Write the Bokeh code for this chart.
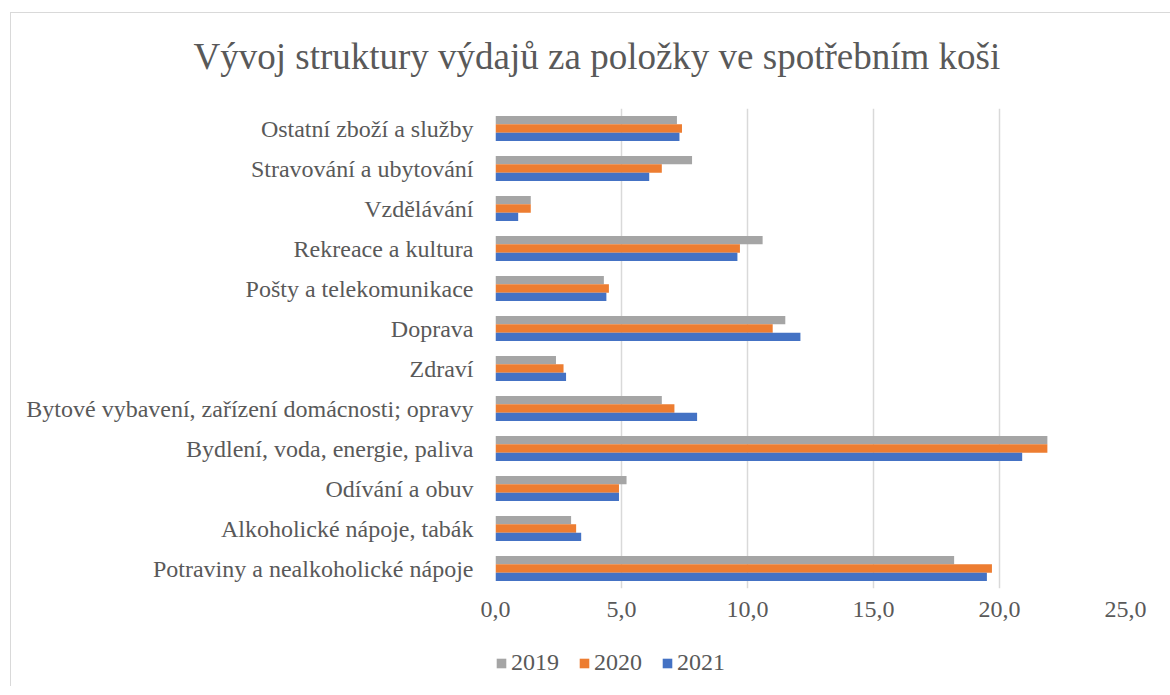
from bokeh.plotting import figure
from bokeh.layouts import column
from bokeh.models import ColumnDataSource, Legend, LegendItem, Range1d, FactorRange, Title
from bokeh.transform import dodge
from bokeh.embed import file_html
from bokeh.resources import INLINE

# bottom-to-top order
categories = [
    "Potraviny a nealkoholické nápoje",
    "Alkoholické nápoje, tabák",
    "Odívání a obuv",
    "Bydlení, voda, energie, paliva",
    "Bytové vybavení, zařízení domácnosti; opravy",
    "Zdraví",
    "Doprava",
    "Pošty a telekomunikace",
    "Rekreace a kultura",
    "Vzdělávání",
    "Stravování a ubytování",
    "Ostatní zboží a služby",
]
v2019 = [18.2, 3.0, 5.2, 21.9, 6.6, 2.4, 11.5, 4.3, 10.6, 1.4, 7.8, 7.2]
v2020 = [19.7, 3.2, 4.9, 21.9, 7.1, 2.7, 11.0, 4.5, 9.7, 1.4, 6.6, 7.4]
v2021 = [19.5, 3.4, 4.9, 20.9, 8.0, 2.8, 12.1, 4.4, 9.6, 0.9, 6.1, 7.3]
years = ["2019", "2020", "2021"]
x_ticks = [0, 5, 10, 15, 20, 25]

colors = ["#a5a5a5", "#ed7d31", "#4472c4"]
FONT = "Liberation Serif"
TXT = "#595959"

source = ColumnDataSource(dict(cat=categories, y2019=v2019, y2020=v2020, y2021=v2021))


def blank(fig):
    fig.axis.visible = False
    fig.grid.visible = False
    fig.outline_line_color = None
    fig.background_fill_color = "white"
    fig.border_fill_color = "white"


# title strip
tf = figure(width=1159, height=95, output_backend="svg", toolbar_location=None,
            min_border_left=484, min_border_right=45, min_border_top=63, min_border_bottom=0,
            x_range=Range1d(0, 25), y_range=Range1d(0, 1))
blank(tf)
tf.title = Title(text="Vývoj struktury výdajů za položky ve spotřebním koši",
                 align="left", offset=-302, text_font=FONT, text_font_size="37px",
                 text_color=TXT, text_font_style="normal", standoff=0)

# main chart
p = figure(
    width=1159, height=532, title=None,
    y_range=FactorRange(*categories, range_padding=0.0),
    x_range=Range1d(0, 25),
    output_backend="svg", toolbar_location=None,
    min_border_left=484, min_border_right=45, min_border_top=0, min_border_bottom=52,
)
p.outline_line_color = None
p.background_fill_color = "white"
p.border_fill_color = "white"

bar_h = 0.21
offsets = [0.21, 0.0, -0.21]
for yr, col, off in zip(years, colors, offsets):
    p.hbar(y=dodge("cat", off, range=p.y_range), right="y" + yr, left=0,
           height=bar_h, source=source, fill_color=col, line_color=None)

p.xaxis.ticker = x_ticks
p.xaxis.major_label_overrides = {t: f"{t:.1f}".replace(".", ",") for t in x_ticks}
p.xaxis.axis_line_color = None
p.xaxis.major_tick_line_color = None
p.xaxis.minor_tick_line_color = None
p.xaxis.major_label_text_font = FONT
p.xaxis.major_label_text_font_size = "24px"
p.xaxis.major_label_text_color = TXT
p.xaxis.major_label_standoff = 7

p.yaxis.axis_line_color = None
p.yaxis.major_tick_line_color = None
p.yaxis.major_label_text_font = FONT
p.yaxis.major_label_text_font_size = "24px"
p.yaxis.major_label_text_color = TXT
p.yaxis.major_label_standoff = 16

p.xgrid.grid_line_color = "#d9d9d9"
p.xgrid.grid_line_width = 1.5
p.ygrid.grid_line_color = None

# legend strip (its bars have zero height, only the legend swatches show)
lf = figure(width=1159, height=46, output_backend="svg", toolbar_location=None,
            min_border_left=484, min_border_right=45, min_border_top=0, min_border_bottom=0,
            x_range=Range1d(0, 25), y_range=FactorRange(*categories))
blank(lf)
items = []
for yr, col in zip(years, colors):
    r = lf.hbar(y="cat", right="y" + yr, left=0, height=0, source=source,
                fill_color=col, line_color=None)
    items.append(LegendItem(label=yr, renderers=[r]))

legend = Legend(
    items=items, orientation="horizontal", location=(0, 10),
    label_text_font=FONT, label_text_font_size="24px", label_text_color=TXT,
    glyph_width=12, glyph_height=12, label_standoff=4, spacing=19,
    border_line_color=None, background_fill_alpha=0, padding=0, margin=0,
)
lf.add_layout(legend)

layout = column(tf, p, lf, spacing=0, margin=(12, 0, 0, 10),
                styles={"border-top": "1px solid #d9d9d9", "border-left": "1px solid #d9d9d9",
                        "background-color": "white"})

open("out.html", "w").write(file_html(layout, INLINE))
